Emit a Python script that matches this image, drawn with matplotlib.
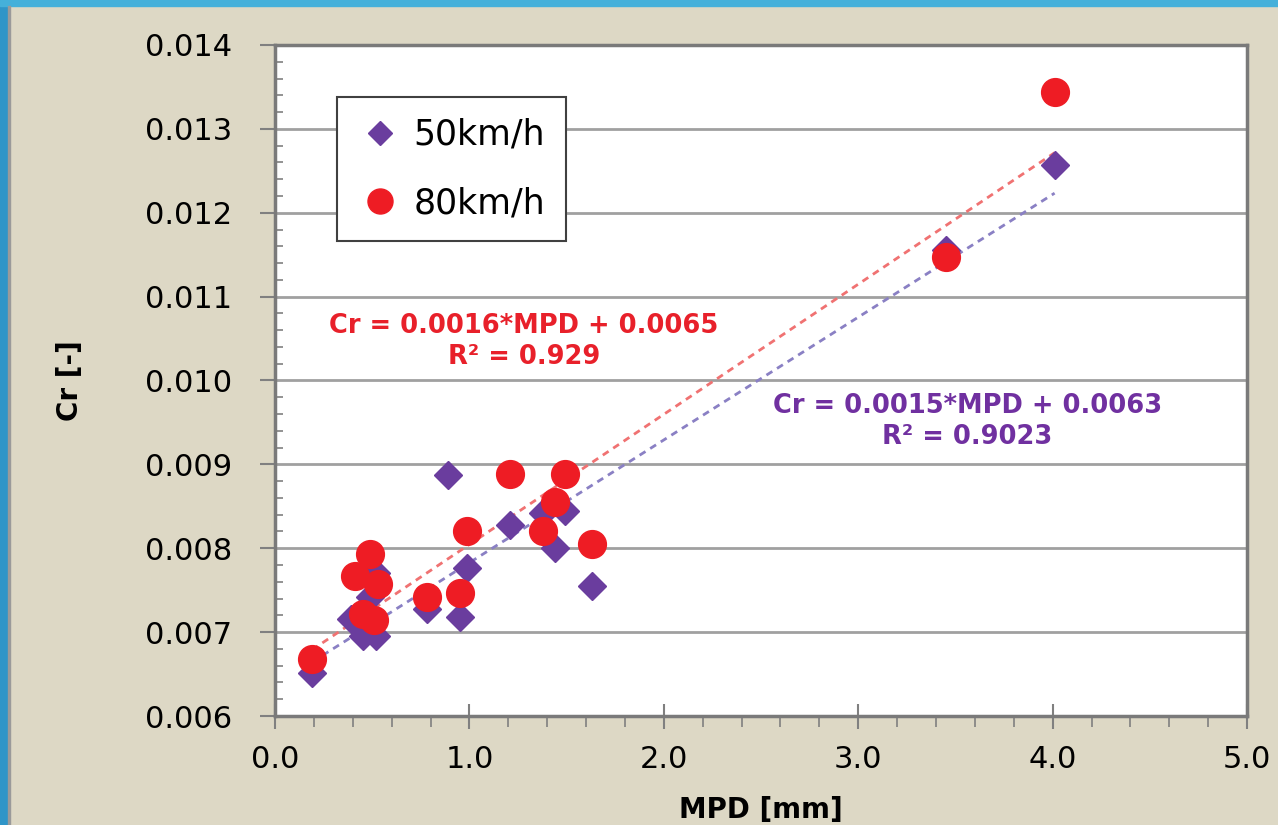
import numpy as np
import matplotlib.pyplot as plt
from matplotlib.patches import Rectangle
from matplotlib.ticker import MultipleLocator, FormatStrFormatter

# data
mpd_50 = [0.19, 0.39, 0.45, 0.49, 0.52, 0.52, 0.78, 0.89, 0.95, 0.99,
          1.21, 1.38, 1.44, 1.49, 1.63, 3.45, 4.01]
cr_50 = [0.00651, 0.00716, 0.00695, 0.00742, 0.00770, 0.00695, 0.00728, 0.00887, 0.00718, 0.00776,
         0.00828, 0.00842, 0.00800, 0.00845, 0.00755, 0.01156, 0.01257]

mpd_80 = [0.19, 0.41, 0.45, 0.49, 0.51, 0.53, 0.78, 0.95, 0.99, 1.21,
          1.38, 1.44, 1.49, 1.63, 3.45, 4.01]
cr_80 = [0.00668, 0.00767, 0.00722, 0.00793, 0.00714, 0.00757, 0.00742, 0.00747, 0.00820, 0.00889,
         0.00820, 0.00855, 0.00889, 0.00805, 0.01147, 0.01344]

eq_80 = ["Cr = 0.0016*MPD + 0.0065", "R² = 0.929"]
eq_50 = ["Cr = 0.0015*MPD + 0.0063", "R² = 0.9023"]

purple = '#6a3d9e'
red = '#ee1c24'

fig = plt.figure(figsize=(12.78, 8.25), dpi=100, facecolor='#ddd8c5')
ax = fig.add_axes([0.2152, 0.1321, 0.7606, 0.8134])
ax.set_facecolor('white')

# blue frame on the slide
fig.patches.append(Rectangle((0, 0), 8 / 1278, 1, transform=fig.transFigure,
                             color='#2f95c8', zorder=0))
fig.patches.append(Rectangle((0, 1 - 6 / 825), 1, 6 / 825, transform=fig.transFigure,
                             color='#45b0da', zorder=0))
fig.patches.append(Rectangle((8 / 1278, 0), 2 / 1278, 1 - 6 / 825, transform=fig.transFigure,
                             color='#9a9a9a', zorder=0))

ax.plot(mpd_50, cr_50, 'D', color=purple, ms=14, mec=purple, label='50km/h', zorder=3)
ax.plot(mpd_80, cr_80, 'o', color=red, ms=20, mec=red, label='80km/h', zorder=4)

# linear trendlines
for x, y, c in [(mpd_80, cr_80, '#f07272'), (mpd_50, cr_50, '#8a80c4')]:
    k, b = np.polyfit(x, y, 1)
    xs = np.array([min(x), max(x)])
    ax.plot(xs, k * xs + b, color=c, lw=2, dashes=(2.5, 2), zorder=2.5)

ax.text(1.28, 0.01047, eq_80[0] + "\n" + eq_80[1], color='#e8202a', fontsize=18.5,
        fontweight='bold', ha='center', va='center', linespacing=1.25)
ax.text(3.56, 0.00951, eq_50[0] + "\n" + eq_50[1], color='#7030a0', fontsize=18.5,
        fontweight='bold', ha='center', va='center', linespacing=1.25)

ax.set_xlim(0, 5)
ax.set_ylim(0.006, 0.014)
ax.xaxis.set_major_locator(MultipleLocator(1))
ax.xaxis.set_minor_locator(MultipleLocator(0.2))
ax.yaxis.set_major_locator(MultipleLocator(0.001))
ax.yaxis.set_minor_locator(MultipleLocator(0.0002))
ax.xaxis.set_major_formatter(FormatStrFormatter('%.1f'))
ax.yaxis.set_major_formatter(FormatStrFormatter('%.3f'))

ax.tick_params(axis='x', which='major', direction='inout', length=18, width=1.5,
               color='#808080', labelsize=22, pad=12)
ax.tick_params(axis='x', which='minor', direction='out', length=8, width=1.2, color='#808080')
ax.tick_params(axis='y', which='major', direction='out', length=11, width=1.5,
               color='#808080', labelsize=22, pad=20)
ax.tick_params(axis='y', which='minor', direction='in', length=6, width=1.2, color='#808080')

ax.grid(axis='y', which='major', color='#a0a0a0', lw=2)
ax.set_axisbelow(True)
for s in ax.spines.values():
    s.set_color('#7a7a7a')
    s.set_linewidth(2.5)

ax.set_xlabel('MPD [mm]', fontsize=20, fontweight='bold', labelpad=16)
ax.set_ylabel('Cr [-]', fontsize=20, fontweight='bold', labelpad=44)

leg = ax.legend(loc='upper left', bbox_to_anchor=(0.0638, 0.9225), fontsize=25,
                markerscale=0.9, fancybox=False, framealpha=1, edgecolor='#404040',
                borderpad=0.6, labelspacing=1.0, handletextpad=0.3, handlelength=1.3,
                borderaxespad=0)
leg.get_frame().set_linewidth(1.5)

fig.savefig('out.png', dpi=100, facecolor=fig.get_facecolor())
